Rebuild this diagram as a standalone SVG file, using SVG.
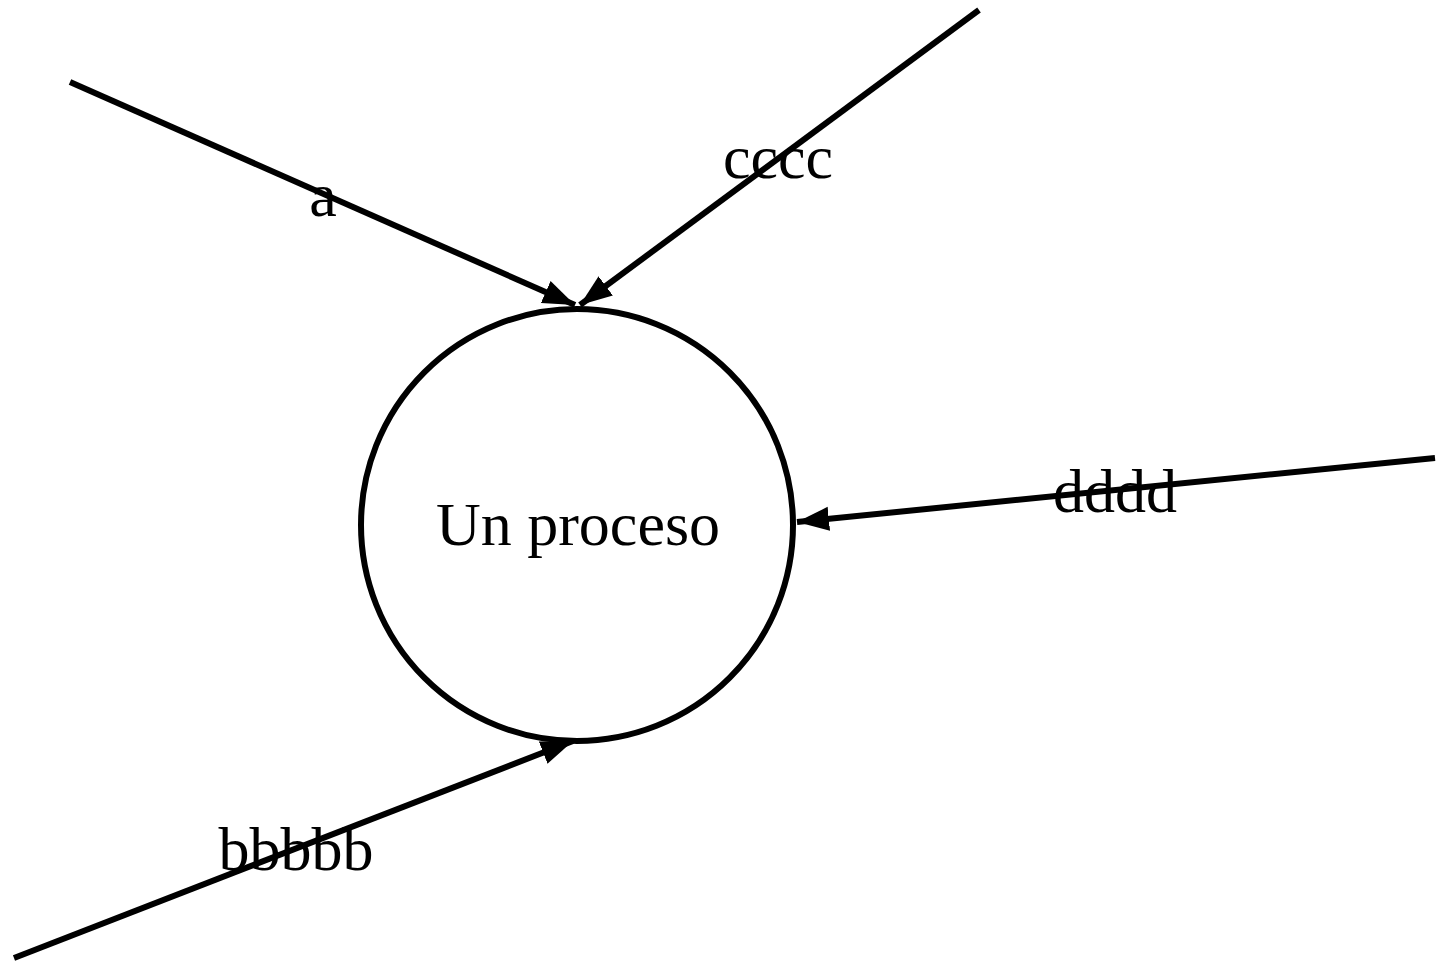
<svg xmlns="http://www.w3.org/2000/svg" width="1443" height="962" viewBox="0 0 1443 962">
<style>
.edge{stroke:#000;stroke-width:6;fill:none}
.lbl{font-family:"Liberation Serif","Times New Roman",serif;font-size:62px;fill:#000;text-anchor:middle}
</style>
<defs>
<marker id="arr" markerUnits="userSpaceOnUse" markerWidth="34" markerHeight="26" viewBox="0 0 34 26" refX="32" refY="13" orient="auto">
<path d="M0,1 L32,13 L0,25 Z" fill="#000"/>
</marker>
</defs>
<rect width="1443" height="962" fill="#fff"/>
<g id="connectors">
<line class="edge" x1="70" y1="82" x2="575" y2="305" marker-end="url(#arr)"/>
<line class="edge" x1="979" y1="10" x2="580" y2="305" marker-end="url(#arr)"/>
<line class="edge" x1="1435" y1="458" x2="797" y2="522" marker-end="url(#arr)"/>
<line class="edge" x1="14" y1="958" x2="573" y2="741" marker-end="url(#arr)"/>
<text class="lbl" x="323" y="216">a</text>
<text class="lbl" x="778" y="178">cccc</text>
<text class="lbl" x="1115" y="512">dddd</text>
<text class="lbl" x="296" y="870">bbbbb</text>
</g>
<g id="proceso">
<circle cx="577" cy="525" r="216" fill="none" stroke="#000" stroke-width="6"/>
<text class="lbl" x="578" y="545">Un proceso</text>
</g>
</svg>
